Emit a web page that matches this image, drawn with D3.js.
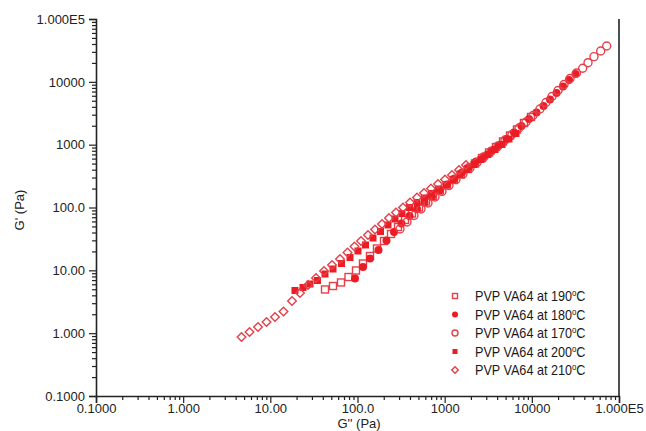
<!DOCTYPE html>
<html>
<head>
<meta charset="utf-8">
<script src="https://cdn.jsdelivr.net/npm/d3@7"></script>
<style>
  html, body { margin: 0; padding: 0; background: #fff; }
  svg { display: block; }
  .tick text { font-family: "Liberation Sans", Arial, sans-serif; font-size: 13px; fill: #222; }
  .axis path, .axis line { stroke: #222; }
  .legend text { font-family: "Liberation Sans", Arial, sans-serif; font-size: 14.5px; fill: #1a1a1a; }
</style>
</head>
<body>
<script>
// Decade ticks shared by both log axes
const decadeTicks = [0.1, 1, 10, 100, 1000, 10000, 100000];
const xTickLabels = ["0.1000", "1.000", "10.00", "100.0", "1000", "10000", "1.000E5"];
const yTickLabels = ["0.1000", "1.000", "10.00", "100.0", "1000", "10000", "1.000E5"];

// G'' (Pa) and G' (Pa) per melt temperature
const g2_190 = [42.38, 52.35, 64.68, 78.83, 96.1, 115.6, 139.1, 167.3, 201.4, 242.2, 291.4, 350.6, 421.9, 507.6, 610.7, 734.6, 883.8, 1063, 1279, 1539, 1852, 2228, 2680, 3225, 3880, 4668, 5616, 6756, 8128, 9779];
const g1_190 = [4.96, 5.63, 6.41, 7.83, 9.94, 12.85, 16.92, 22.27, 29.31, 37.88, 48.95, 63.27, 80.30, 100.0, 124.6, 152.5, 186.6, 224.0, 274.1, 335.3, 410.1, 501.7, 613.8, 750.7, 918.6, 1124, 1400, 1744, 2213, 2757];

const g2_180 = [93.6, 115.6, 139.1, 174.1, 215.1, 262.2, 319.7, 394.9, 481.4, 586.9, 715.4, 872.0, 1063, 1296, 1580, 1901, 2287, 2788, 3445, 4145, 5121, 6243, 7610, 9277, 11310, 13610, 16160, 19180, 22780, 26690, 31690];
const g1_180 = [7.42, 11.30, 15.44, 21.07, 29.85, 40.76, 55.66, 73.25, 94.7, 120.2, 149.7, 186.6, 232.4, 289.5, 360.7, 441.2, 539.9, 648.5, 808.0, 970.5, 1231, 1563, 1983, 2562, 3252, 4127, 5238, 6645, 8433, 10700, 13340];

const g2_170 = [307.3, 369.6, 444.6, 535.1, 643.7, 774.5, 931.8, 1121, 1349, 1622, 1952, 2349, 2825, 3399, 4090, 4920, 5919, 7121, 8568, 10310, 12400, 14530, 17030, 19950, 23390, 27400, 32530, 38320, 44100, 51660, 61660, 72240];
const g1_170 = [45.50, 58.80, 74.61, 94.7, 117.9, 147.0, 179.8, 224.0, 279.1, 341.5, 425.5, 520.4, 636.7, 778.9, 952.8, 1187, 1452, 1843, 2296, 2913, 3698, 4693, 5847, 7283, 9073, 11310, 13830, 16430, 20170, 25150, 30970, 37200];

const g2_200 = [19.18, 23.70, 28.51, 34.76, 42.38, 52.35, 65.53, 82.02, 101.3, 123.5, 150.6, 183.6, 223.8, 269.2, 323.9, 394.9, 481.4, 586.9, 706.1, 849.5, 1036, 1246, 1499, 1804, 2170, 2610, 3141, 3779, 4546, 5469, 6580];
const g1_200 = [4.78, 5.33, 6.06, 6.89, 8.74, 10.50, 12.85, 16.01, 20.31, 25.31, 32.72, 41.52, 52.68, 65.65, 80.30, 100.0, 120.2, 141.7, 167.1, 197.1, 232.4, 279.1, 335.3, 402.6, 483.6, 580.9, 697.6, 838.0, 1007, 1231, 1507];

const g2_210 = [4.67, 5.77, 7.22, 9.04, 11.31, 14.16, 17.72, 21.89, 27.05, 33.41, 41.27, 50.98, 62.98, 76.79, 92.36, 109.7, 131.9, 158.8, 191.0, 229.8, 276.4, 332.6, 400.1, 481.4, 579.2, 696.7, 838.2, 1009, 1213, 1460, 1756];
const g1_210 = [0.869, 1.044, 1.254, 1.506, 1.809, 2.213, 3.25, 4.36, 5.84, 7.55, 9.76, 12.16, 15.16, 19.23, 23.96, 29.31, 36.52, 44.67, 54.66, 68.10, 83.30, 100.0, 120.2, 144.3, 170.2, 200.8, 236.7, 279.1, 329.2, 395.4, 474.9];

const seriesNames = ["PVP VA64 at 190", "PVP VA64 at 180", "PVP VA64 at 170", "PVP VA64 at 200", "PVP VA64 at 210"];

const red = "#ec1c24";
const redLine = "#e5404a";

const series = [
  { name: seriesNames[0], x: g2_190, y: g1_190, shape: "square",  filled: false },
  { name: seriesNames[1], x: g2_180, y: g1_180, shape: "circle",  filled: true  },
  { name: seriesNames[2], x: g2_170, y: g1_170, shape: "circle",  filled: false },
  { name: seriesNames[3], x: g2_200, y: g1_200, shape: "square",  filled: true  },
  { name: seriesNames[4], x: g2_210, y: g1_210, shape: "diamond", filled: false }
];

const W = 646, H = 431;
const plot = { left: 96, right: 619, top: 19, bottom: 396 };

const svg = d3.select("body").append("svg").attr("width", W).attr("height", H);

const x = d3.scaleLog().domain([0.1, 100000]).range([plot.left, plot.right]);
const y = d3.scaleLog().domain([0.1, 100000]).range([plot.bottom, plot.top]);

// Minor ticks 2..9 within each decade
const minorTicks = [];
decadeTicks.slice(0, -1).forEach(d => { for (let k = 2; k <= 9; k++) minorTicks.push(d * k); });

// X axis
const gx = svg.append("g").attr("class", "axis").attr("transform", `translate(0,${plot.bottom})`);
gx.append("g").call(d3.axisBottom(x).tickValues(minorTicks).tickSize(4).tickFormat(""))
  .call(g => g.select(".domain").remove());
gx.append("g").call(d3.axisBottom(x).tickValues(decadeTicks).tickSize(7).tickPadding(1)
  .tickFormat((d, i) => xTickLabels[i]));
gx.selectAll("path.domain").attr("stroke-width", 1.6);
gx.selectAll("line").attr("stroke-width", 1.2);

// Y axis
const gy = svg.append("g").attr("class", "axis").attr("transform", `translate(${plot.left},0)`);
gy.append("g").call(d3.axisLeft(y).tickValues(minorTicks).tickSize(4).tickFormat(""))
  .call(g => g.select(".domain").remove());
gy.append("g").call(d3.axisLeft(y).tickValues(decadeTicks).tickSize(7).tickPadding(4)
  .tickFormat((d, i) => yTickLabels[i]));
gy.selectAll("path.domain").attr("stroke-width", 1.6);
gy.selectAll("line").attr("stroke-width", 1.2);

// Right frame line
svg.append("line")
  .attr("x1", plot.right).attr("x2", plot.right)
  .attr("y1", plot.top).attr("y2", plot.bottom)
  .attr("stroke", "#222").attr("stroke-width", 1.6);

// Axis titles
svg.append("text")
  .attr("x", 359).attr("y", 428)
  .attr("text-anchor", "middle")
  .style("font-family", "Liberation Sans, Arial, sans-serif").style("font-size", "13px").style("fill", "#222")
  .text("G'' (Pa)");
svg.append("text")
  .attr("transform", "translate(24,210) rotate(-90)")
  .attr("text-anchor", "middle")
  .style("font-family", "Liberation Sans, Arial, sans-serif").style("font-size", "13px").style("fill", "#222")
  .text("G' (Pa)");

// Marker drawing
function marker(g, shape, filled, size) {
  let el;
  if (shape === "circle") {
    el = g.append("circle").attr("r", size / 2);
  } else if (shape === "square") {
    el = g.append("rect").attr("x", -size / 2).attr("y", -size / 2).attr("width", size).attr("height", size);
  } else {
    const s = size / 2 + 0.8;
    el = g.append("path").attr("d", `M0,${-s}L${s},0L0,${s}L${-s},0Z`);
  }
  if (filled) el.attr("fill", red).attr("stroke", "none");
  else el.attr("fill", "none").attr("stroke", redLine).attr("stroke-width", 1.4);
  return el;
}

const gData = svg.append("g");
series.forEach(s => {
  const pts = s.x.map((v, i) => [v, s.y[i]]);
  const gs = gData.append("g");
  pts.forEach(p => {
    const g = gs.append("g").attr("transform", `translate(${x(p[0])},${y(p[1])})`);
    marker(g, s.shape, s.filled, s.shape === "circle" ? 8 : 7);
  });
});

// Legend (text condensed horizontally)
const legend = svg.append("g").attr("class", "legend");
const legendY = [296, 314.5, 333, 351.5, 370];
series.forEach((s, i) => {
  const g = legend.append("g").attr("transform", `translate(455,${legendY[i]})`);
  marker(g, s.shape, s.filled, s.shape === "circle" ? 6 : 5);
  const t = g.append("text").attr("transform", "translate(20,5) scale(0.87,1)");
  t.append("tspan").text(s.name);
  t.append("tspan").attr("dy", -5).style("font-size", "9px").text("o");
  t.append("tspan").attr("dy", 5).text("C");
});
</script>
</body>
</html>
